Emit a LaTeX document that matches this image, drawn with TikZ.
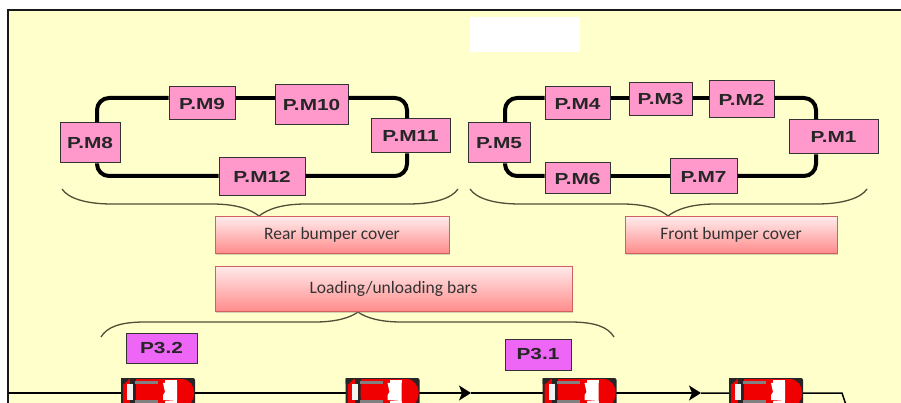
\documentclass[tikz,border=0pt]{standalone}
\usepackage{fontspec}
\usetikzlibrary{calc,shadows,arrows.meta}
\newfontfamily\pmfont{Liberation Sans}[FakeStretch=1.3]
\newfontfamily\btnfont{Carlito}
\definecolor{bgyellow}{HTML}{FFFFCC}
\definecolor{pmpink}{HTML}{FF99CC}
\definecolor{pmag}{HTML}{EE66F5}
\definecolor{bracecol}{HTML}{4F4F38}
\definecolor{carred}{HTML}{F00000}
\tikzset{
  pmbox/.style={draw=black!80,line width=1pt,fill=pmpink,inner sep=0pt,text=black!85,
    font=\pmfont\bfseries\fontsize{16}{18}\selectfont},
  pbox/.style={draw=black!80,line width=1pt,fill=pmag,inner sep=0pt,text=black!85,
    font=\pmfont\bfseries\fontsize{16}{18}\selectfont},
  btn/.style={draw=red!55!gray!80,line width=1pt,top color=red!8!white,bottom color=red!45!white,
    inner sep=0pt,text=black!80,font=\btnfont\fontsize{17.5}{20}\selectfont,
    drop shadow={shadow xshift=0.5pt,shadow yshift=-2pt,opacity=.35,fill=gray}},
  ring/.style={line width=4pt,black,rounded corners=12pt,line cap=butt},
  bracel/.style={line width=1.3pt,bracecol},
  flow/.style={line width=1.5pt,black},
  flowarrow/.style={line width=1.5pt,black,-{Stealth[length=12pt,width=15pt,inset=3pt]}},
  pics/redcar/.style={code={
    \fill[black!85,rounded corners=2pt] (-37,-15) rectangle (37,16);
    \fill[carred,rounded corners=2pt] (-35,-14) -- (22,-14) .. controls (32,-14) and (36,-6) .. (36,0)
       .. controls (36,6) and (32,15) .. (22,15) -- (-35,15) -- cycle;
    \fill[black!85] (-37,-15) -- (-28,-15) -- (-34,-9) -- (-37,-9) -- cycle;
    \fill[black!85] (-28,-15) rectangle (-22,15);
    \fill[white!90!gray] (-31,-9) rectangle (-25,7);
    \fill[gray] (-23,-12) rectangle (0,-9);
    \fill[gray] (-23,7) rectangle (0,11);
    \fill[carred] (-22,-8) -- (3,-8) -- (5,-4) -- (5,2) -- (3,5) -- (-22,5) -- cycle;
    \fill[white] (5,-10) -- (19,-11) -- (19,8) -- (5,7) -- (5,2) -- (7,-1) -- cycle;
    \fill[white] (7,-13) rectangle (19,-10);
    \fill[white] (7,8) rectangle (19,11);
  }}
}
\begin{document}
\begin{tikzpicture}[x=1pt,y=-1pt]
\useasboundingbox (0,0) rectangle (901,403);
\clip (0,0) rectangle (901,403);
\fill[white] (0,0) rectangle (901,403);
\fill[bgyellow] (8,10) rectangle (901,403);
\draw[line width=2pt,black!90] (8,403) -- (8,10) -- (901,10);
\fill[white] (470,17) rectangle (580,52);

% ring corners
\coordinate (RA) at (97,98);
\coordinate (RB) at (407,176);
\coordinate (FA) at (505,98);
\coordinate (FB) at (816,176);

% rear group
\node[pmbox,minimum width=66pt,minimum height=33pt] (PM9) at (202,103.5) {P.M9};
\node[pmbox,minimum width=73pt,minimum height=40pt] (PM10) at (311.5,105) {P.M10};
\node[pmbox,minimum width=60pt,minimum height=40pt] (PM8) at (90,143) {P.M8};
\node[pmbox,minimum width=79pt,minimum height=34pt] (PM11) at (410.5,136) {P.M11};
\node[pmbox,minimum width=86pt,minimum height=38pt] (PM12) at (262,177) {P.M12};
% front group
\node[pmbox,minimum width=65pt,minimum height=33pt] (PM4) at (577.5,103.5) {P.M4};
\node[pmbox,minimum width=63pt,minimum height=33pt] (PM3) at (660.5,99.5) {P.M3};
\node[pmbox,minimum width=65pt,minimum height=37pt] (PM2) at (741.5,99.5) {P.M2};
\node[pmbox,minimum width=62pt,minimum height=40pt] (PM5) at (499,143) {P.M5};
\node[pmbox,minimum width=89pt,minimum height=34pt] (PM1) at (833.5,137) {P.M1};
\node[pmbox,minimum width=65pt,minimum height=31pt] (PM6) at (577.5,178.5) {P.M6};
\node[pmbox,minimum width=67pt,minimum height=35pt] (PM7) at (703.5,176.5) {P.M7};

\begin{scope}[on background layer/.try]
\end{scope}
% rings
\draw[ring] (PM8.north -| RA) |- (PM9.west |- RA);
\draw[ring] (PM9.east |- RA) -- (PM10.west |- RA);
\draw[ring] (PM10.east |- RA) -| (PM11.north -| RB);
\draw[ring] (PM11.south -| RB) |- (PM12.east |- RB);
\draw[ring] (PM12.west |- RB) -| (PM8.south -| RA);
\draw[ring] (PM5.north -| FA) |- (PM4.west |- FA);
\draw[ring] (PM4.east |- FA) -- (PM3.west |- FA);
\draw[ring] (PM3.east |- FA) -- (PM2.west |- FA);
\draw[ring] (PM2.east |- FA) -| (PM1.north -| FB);
\draw[ring] (PM1.south -| FB) |- (PM7.east |- FB);
\draw[ring] (PM7.west |- FB) -- (PM6.east |- FB);
\draw[ring] (PM6.west |- FB) -| (PM5.south -| FA);

% braces
\draw[bracel] (62,189) .. controls (68,198) and (85,204) .. (112,204) -- (212,204)
  .. controls (236,204) and (250,209) .. (259,216) .. controls (268,209) and (282,204) .. (306,204)
  -- (408,204) .. controls (435,204) and (452,198) .. (458,189);
\draw[bracel] (470,189) .. controls (476,198) and (493,204) .. (520,204) -- (622,204)
  .. controls (645,204) and (660,209) .. (668,216) .. controls (677,209) and (692,204) .. (715,204)
  -- (817,204) .. controls (843,204) and (861,198) .. (867,189);
\draw[bracel] (101,337) .. controls (107,327) and (120,322) .. (145,322) -- (315,322)
  .. controls (335,322) and (350,318) .. (358,312) .. controls (366,318) and (381,322) .. (401,322)
  -- (570,322) .. controls (595,322) and (608,327) .. (614,337);

% buttons
\node[btn,minimum width=234pt,minimum height=36pt] (rear) at (332,235) {Rear bumper cover};
\node[btn,minimum width=357pt,minimum height=45pt] (load) at (393.5,288.5) {Loading/unloading bars};
\node[btn,minimum width=212pt,minimum height=36pt] (front) at (731,235) {Front bumper cover};

% stations
\node[pbox,minimum width=71pt,minimum height=30pt] (P32) at (161.5,348) {P3.2};
\node[pbox,minimum width=66pt,minimum height=31pt] (P31) at (538,354.5) {P3.1};

% line
\coordinate (start) at (8,393);
\coordinate (C1) at (158,393);
\coordinate (C2) at (382.5,393);
\coordinate (C3) at (579.5,393);
\coordinate (C4) at (766,393);
\coordinate (A1) at (471,393);
\coordinate (A2) at (701,393);
\coordinate (bend) at (842,393);
\coordinate (endp) at (846,405);
\draw[flow] (start) -- (C1) -- (C2);
\draw[flowarrow] (C2) -- (A1);
\draw[flow] (A1) -- (C3);
\draw[flowarrow] (C3) -- (A2);
\draw[flow] (A2) -- (C4) -- (bend) -- (endp);
\pic at (C1) {redcar};
\pic at (C2) {redcar};
\pic at (C3) {redcar};
\pic at (C4) {redcar};
\end{tikzpicture}
\end{document}
